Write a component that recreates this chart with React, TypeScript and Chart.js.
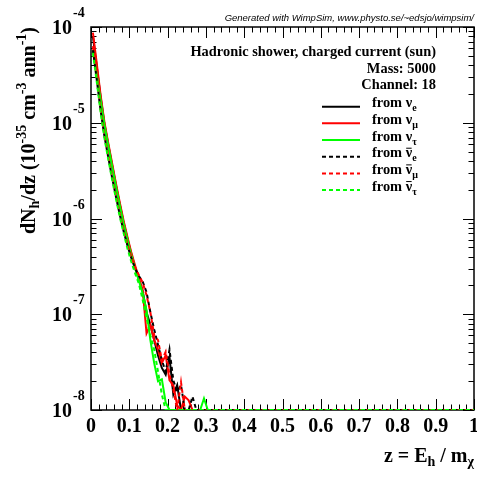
import React, { useEffect, useRef } from "react";
import { Chart, registerables } from "chart.js";

Chart.register(...registerables);

// ---- data (bin centres in z, dN/dz values) ----
const zs = [
  0.005, 0.015, 0.025, 0.035, 0.045, 0.055, 0.065, 0.075, 0.085, 0.095,
  0.105, 0.115, 0.125, 0.135, 0.145, 0.155, 0.165, 0.175, 0.185, 0.195,
  0.205, 0.215, 0.225, 0.235, 0.245, 0.255, 0.265, 0.275, 0.285, 0.295,
  0.305, 1.0,
];

const nuE = [
  7.94e-5, 3.89e-5, 1.86e-5, 9.77e-6, 5.89e-6, 3.63e-6, 2.24e-6, 1.41e-6, 9.12e-7, 6.17e-7,
  4.27e-7, 3.09e-7, 2.29e-7, 1.74e-7, 1.05e-7, 7.76e-8, 5.37e-8, 3.72e-8, 2.75e-8, 2.34e-8,
  3.55e-8, 1.45e-8, 1.82e-8, 1e-8, 1e-8, 1e-8, 1e-8, 1e-8, 1e-8, 1e-8,
  1e-8, 1e-8,
];
const nuMu = [
  8.71e-5, 4.17e-5, 1.95e-5, 1.02e-5, 6.17e-6, 3.8e-6, 2.34e-6, 1.48e-6, 9.55e-7, 6.46e-7,
  4.47e-7, 3.24e-7, 2.4e-7, 1.78e-7, 6.31e-8, 7.76e-8, 5.37e-8, 4.27e-8, 3.09e-8, 3.72e-8,
  2.04e-8, 1.82e-8, 1.12e-8, 1e-8, 1.38e-8, 1.26e-8, 1e-8, 1e-8, 1e-8, 1e-8,
  1e-8, 1e-8,
];
const nuTau = [
  5.75e-5, 3.16e-5, 1.74e-5, 9.55e-6, 5.75e-6, 3.55e-6, 2.19e-6, 1.38e-6, 8.91e-7, 6.03e-7,
  4.17e-7, 3.02e-7, 2.24e-7, 1.66e-7, 1.1e-7, 5.37e-8, 3.09e-8, 2.0e-8, 2.09e-8, 1.2e-8,
  1e-8, 1e-8, 1e-8, 1e-8, 1e-8, 1e-8, 1e-8, 1e-8, 1e-8, 1.32e-8,
  1e-8, 1e-8,
];
const antiNuE = [
  5.75e-5, 2.82e-5, 1.35e-5, 7.24e-6, 4.37e-6, 2.69e-6, 1.7e-6, 1.1e-6, 7.41e-7, 5.25e-7,
  3.89e-7, 3.02e-7, 2.51e-7, 2.19e-7, 1.7e-7, 1.05e-7, 6.92e-8, 4.79e-8, 3.31e-8, 2.51e-8,
  4.27e-8, 2.04e-8, 1.55e-8, 1.82e-8, 1e-8, 1e-8, 1.38e-8, 1e-8, 1e-8, 1e-8,
  1e-8, 1e-8,
];
const antiNuMu = [
  6.31e-5, 2.95e-5, 1.38e-5, 7.41e-6, 4.47e-6, 2.75e-6, 1.74e-6, 1.12e-6, 7.59e-7, 5.37e-7,
  3.98e-7, 3.09e-7, 2.57e-7, 2.14e-7, 1.58e-7, 1.05e-7, 6.03e-8, 5.37e-8, 3.31e-8, 4.07e-8,
  2.34e-8, 1.62e-8, 1e-8, 1.95e-8, 1e-8, 1e-8, 1e-8, 1e-8, 1e-8, 1e-8,
  1e-8, 1e-8,
];
const antiNuTau = [
  5.37e-5, 2.69e-5, 1.29e-5, 6.92e-6, 4.17e-6, 2.57e-6, 1.62e-6, 1.05e-6, 7.08e-7, 4.9e-7,
  3.55e-7, 2.69e-7, 2.09e-7, 1.41e-7, 9.12e-8, 6.03e-8, 4.27e-8, 2.51e-8, 1.45e-8, 1e-8,
  1e-8, 1e-8, 1e-8, 1e-8, 1e-8, 1e-8, 1e-8, 1e-8, 1e-8, 1e-8,
  1e-8, 1e-8,
];

const seriesNames = ["e", "μ", "τ", "e", "μ", "τ"];
const seriesAnti = [false, false, false, true, true, true];
const seriesColors = ["#000000", "#ff0000", "#00ff00", "#000000", "#ff0000", "#00ff00"];
const seriesValues = [nuE, nuMu, nuTau, antiNuE, antiNuMu, antiNuTau];

const xTickValues = [0, 0.1, 0.2, 0.3, 0.4, 0.5, 0.6, 0.7, 0.8, 0.9, 1];
const xTickLabels = ["0", "0.1", "0.2", "0.3", "0.4", "0.5", "0.6", "0.7", "0.8", "0.9", "1"];
const yDecades = [1e-8, 1e-7, 1e-6, 1e-5, 1e-4];
const yExponents = ["-8", "-7", "-6", "-5", "-4"];

const headerLines = ["Hadronic shower, charged current (sun)", "Mass: 5000", "Channel: 18"];
const creditText = "Generated with WimpSim, www.physto.se/~edsjo/wimpsim/";

const SERIF = '"Liberation Serif", "Times New Roman", serif';
const SANS = '"Liberation Sans", Arial, sans-serif';

type Part = { t: string; size: number; dy?: number };

function partsWidth(ctx: CanvasRenderingContext2D, parts: Part[]) {
  let w = 0;
  for (const p of parts) {
    ctx.font = `bold ${p.size}px ${SERIF}`;
    w += ctx.measureText(p.t).width;
  }
  return w;
}

function drawRich(
  ctx: CanvasRenderingContext2D,
  parts: Part[],
  x: number,
  y: number,
  align: "left" | "right" | "center"
) {
  const w = partsWidth(ctx, parts);
  let cx = align === "left" ? x : align === "right" ? x - w : x - w / 2;
  ctx.textAlign = "left";
  ctx.textBaseline = "alphabetic";
  for (const p of parts) {
    ctx.font = `bold ${p.size}px ${SERIF}`;
    ctx.fillText(p.t, cx, y + (p.dy || 0));
    cx += ctx.measureText(p.t).width;
  }
}

function line(ctx: CanvasRenderingContext2D, x1: number, y1: number, x2: number, y2: number) {
  ctx.beginPath();
  ctx.moveTo(x1, y1);
  ctx.lineTo(x2, y2);
  ctx.stroke();
}

const framePlugin = {
  id: "rootFrame",
  beforeDatasetsDraw(chart: any) {
    const ctx: CanvasRenderingContext2D = chart.ctx;
    const { left, right, top, bottom } = chart.chartArea;
    const xs = chart.scales.x;
    const ys = chart.scales.y;
    ctx.save();
    ctx.strokeStyle = "#000";
    ctx.lineWidth = 1;
    // x ticks (bottom and top), every 0.02, major every 0.1
    for (let i = 0; i <= 50; i++) {
      const px = Math.round(xs.getPixelForValue(i / 50)) + 0.5;
      const len = i % 5 === 0 ? 11 : 5.5;
      line(ctx, px, bottom, px, bottom - len);
      line(ctx, px, top, px, top + len);
    }
    // y ticks (left and right), log
    for (let d = -8; d <= -4; d++) {
      for (let m = 1; m <= 9; m++) {
        const v = m * Math.pow(10, d);
        if (v > 1.0001e-4) break;
        const py = Math.round(ys.getPixelForValue(v)) + 0.5;
        const len = m === 1 ? 11 : 5.5;
        line(ctx, left, py, left + len, py);
        line(ctx, right, py, right - len, py);
      }
    }
    ctx.lineWidth = 1.5;
    ctx.strokeRect(left, top, right - left, bottom - top);
    ctx.restore();
  },
  afterDraw(chart: any) {
    const ctx: CanvasRenderingContext2D = chart.ctx;
    const { left, right, top, bottom } = chart.chartArea;
    const xs = chart.scales.x;
    const ys = chart.scales.y;
    ctx.save();
    ctx.fillStyle = "#000";
    // x tick labels
    ctx.font = `bold 20px ${SERIF}`;
    ctx.textAlign = "center";
    ctx.textBaseline = "alphabetic";
    xTickValues.forEach((v, i) => {
      ctx.fillText(xTickLabels[i], xs.getPixelForValue(v), bottom + 22);
    });
    // y tick labels 10^n
    yDecades.forEach((v, i) => {
      const py = ys.getPixelForValue(v);
      ctx.font = `bold 20px ${SERIF}`;
      ctx.textAlign = "right";
      ctx.fillText("10", left - 19, py + 7);
      ctx.font = `bold 14px ${SERIF}`;
      ctx.textAlign = "left";
      ctx.fillText(yExponents[i], left - 18, py - 10);
    });
    // x title
    drawRich(
      ctx,
      [
        { t: "z = E", size: 20 },
        { t: "h", size: 14, dy: 4 },
        { t: " / m", size: 20 },
        { t: "χ", size: 14, dy: 4 },
      ],
      right,
      bottom + 52,
      "right"
    );
    // y title (rotated)
    ctx.save();
    ctx.translate(35, top);
    ctx.rotate(-Math.PI / 2);
    drawRich(
      ctx,
      [
        { t: "dN", size: 20 },
        { t: "h", size: 14, dy: 4 },
        { t: "/dz (10", size: 20 },
        { t: "-35", size: 14, dy: -9 },
        { t: " cm", size: 20 },
        { t: "-3", size: 14, dy: -9 },
        { t: " ann", size: 20 },
        { t: "-1", size: 14, dy: -9 },
        { t: ")", size: 20 },
      ],
      0,
      0,
      "right"
    );
    ctx.restore();
    // credit
    ctx.font = `italic 9.5px ${SANS}`;
    ctx.textAlign = "right";
    ctx.fillText(creditText, right, 21);
    // header text
    ctx.textAlign = "right";
    headerLines.forEach((s, i) => {
      ctx.font = `bold 14.4px ${SERIF}`;
      ctx.fillText(s, 436, 56 + i * 16.7);
    });
    // legend
    seriesNames.forEach((nm, i) => {
      const ly = 106.7 + i * 16.67;
      ctx.strokeStyle = seriesColors[i];
      ctx.lineWidth = 2;
      ctx.setLineDash(seriesAnti[i] ? [4, 3] : []);
      line(ctx, 322, ly, 360, ly);
      ctx.setLineDash([]);
      ctx.fillStyle = "#000";
      const parts: Part[] = [
        { t: "from ", size: 14.4 },
        { t: "ν", size: 14.4 },
        { t: nm, size: 10, dy: 4 },
      ];
      drawRich(ctx, parts, 372, ly + 0.5, "left");
      if (seriesAnti[i]) {
        ctx.font = `bold 14.4px ${SERIF}`;
        const w0 = ctx.measureText("from ").width;
        const wn = ctx.measureText("ν").width;
        ctx.strokeStyle = "#000";
        ctx.lineWidth = 1;
        line(ctx, 372 + w0 + 0.5, ly - 8.5, 372 + w0 + wn - 0.5, ly - 8.5);
      }
    });
    ctx.restore();
  },
};

export default function App() {
  const ref = useRef<HTMLCanvasElement | null>(null);
  useEffect(() => {
    if (!ref.current) return;
    const datasets = seriesValues.map((vals, i) => ({
      label: (seriesAnti[i] ? "anti-nu " : "nu ") + seriesNames[i],
      data: zs.map((z, j) => ({ x: z, y: vals[j] })),
      borderColor: seriesColors[i],
      borderWidth: 2,
      borderDash: seriesAnti[i] ? [4, 3] : [],
      pointRadius: 0,
      tension: 0,
      fill: false,
      order: 6 - i,
    }));
    const chart = new Chart(ref.current, {
      type: "line",
      data: { datasets },
      options: {
        animation: false,
        responsive: false,
        devicePixelRatio: 1,
        layout: { padding: { left: 91, right: 3, top: 27, bottom: 67 } },
        plugins: { legend: { display: false }, tooltip: { enabled: false }, title: { display: false } },
        scales: {
          x: { type: "linear", min: 0, max: 1, display: false },
          y: { type: "logarithmic", min: 1e-8, max: 1e-4, display: false },
        },
      },
      plugins: [framePlugin],
    } as any);
    return () => chart.destroy();
  }, []);
  return (
    <div style={{ position: "fixed", left: 0, top: 0, width: 477, height: 477, background: "#fff" }}>
      <canvas ref={ref} width={477} height={477} style={{ display: "block" }} />
    </div>
  );
}
